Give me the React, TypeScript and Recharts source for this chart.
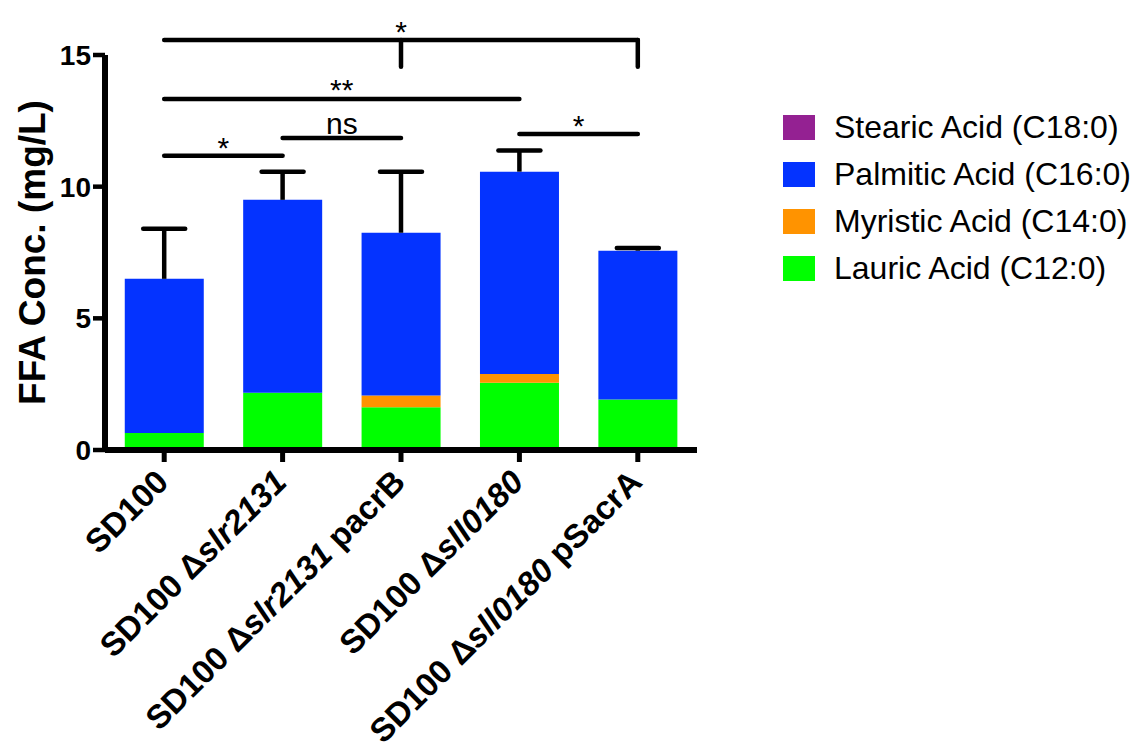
import { BarChart, Bar, XAxis, YAxis, ReferenceLine, Legend } from "recharts";

// strains on the x axis
const strains = [
  "SD100",
  "SD100 Δslr2131",
  "SD100 Δslr2131 pacrB",
  "SD100 Δsll0180",
  "SD100 Δsll0180 pSacrA",
];

// tick text split into runs, every second run is a gene name (italic)
const strainLabels = [
  ["SD100"],
  ["SD100 Δ", "slr2131"],
  ["SD100 Δ", "slr2131", " pacrB"],
  ["SD100 Δ", "sll0180"],
  ["SD100 Δ", "sll0180", " pSacrA"],
];

// free fatty acid concentrations, mg/L
const lauric = [0.65, 2.17, 1.62, 2.55, 1.92];
const myristic = [0, 0, 0.45, 0.34, 0];
const palmitic = [5.85, 7.33, 6.18, 7.68, 5.65];
const stearic = [0, 0, 0, 0, 0];
// upper SD of the total
const totalSd = [1.9, 1.07, 2.32, 0.8, 0.1];

const yTicks = [0, 5, 10, 15];

// significance brackets (y in mg/L)
const brackets = [
  { from: 0, to: 1, y: 11.17, text: "*" },
  { from: 1, to: 2, y: 11.85, text: "ns" },
  { from: 3, to: 4, y: 12.0, text: "*" },
  { from: 0, to: 3, y: 13.33, text: "**" },
  { from: 0, to: 4, y: 15.57, text: "*" },
];
// downward legs of the top bracket
const topBracketLegs = [2, 4];
const topBracketLegEnd = 14.55;

const data = strains.map((strain, i) => ({
  strain,
  lauric: lauric[i],
  myristic: myristic[i],
  palmitic: palmitic[i],
  stearic: stearic[i],
}));

const totals = strains.map((_, i) => lauric[i] + myristic[i] + palmitic[i] + stearic[i]);

const FONT = '"Liberation Sans", Arial, Helvetica, sans-serif';

// asterisks sit low in the font box, so they get pulled down onto the line
const labelOffset = (text: string) => (text === "ns" ? 4 : text === "**" ? -1 : -2);

function StrainTick({ x, y, payload }: any) {
  const idx = strains.indexOf(payload.value);
  const parts = strainLabels[idx] ?? [payload.value];
  return (
    <text
      transform={`translate(${x + 6},${y + 20}) rotate(-45)`}
      textAnchor="end"
      fontSize={33}
      fontWeight={700}
      fontFamily={FONT}
      fill="#000"
    >
      {parts.map((s, i) => (
        <tspan key={i} fontStyle={i % 2 === 1 ? "italic" : "normal"}>
          {s}
        </tspan>
      ))}
    </text>
  );
}

function Whisker(p: any) {
  const top = Math.min(p.y1, p.y2);
  const bottom = Math.max(p.y1, p.y2);
  return (
    <g>
      <line x1={p.x1} y1={bottom} x2={p.x1} y2={top} stroke="#000" strokeWidth={4.5} />
      <line x1={p.x1 - 21} y1={top} x2={p.x1 + 21} y2={top} stroke="#000" strokeWidth={4.5} strokeLinecap="round" />
    </g>
  );
}

function BracketLine(p: any) {
  return <line x1={p.x1} y1={p.y1} x2={p.x2} y2={p.y2} stroke="#000" strokeWidth={4.5} strokeLinecap="round" />;
}

function AcidLegend({ payload }: any) {
  const items = [...(payload ?? [])].reverse();
  return (
    <div style={{ fontFamily: FONT }}>
      {items.map((item: any) => (
        <div key={item.value} style={{ display: "flex", alignItems: "center", height: 47 }}>
          <span style={{ width: 32, height: 25, background: item.color, marginRight: 19, flex: "none" }} />
          <span style={{ fontSize: 32, color: "#000", whiteSpace: "nowrap" }}>{item.value}</span>
        </div>
      ))}
    </div>
  );
}

export default function App() {
  return (
    <div style={{ position: "absolute", left: 0, top: 0, fontFamily: FONT, background: "#fff" }}>
      <BarChart
        width={1142}
        height={751}
        data={data}
        margin={{ top: 55, right: 445, bottom: 0, left: 0 }}
        barCategoryGap="16.7%"
      >
        <XAxis
          dataKey="strain"
          height={301}
          interval={0}
          tickSize={12}
          tick={<StrainTick />}
          axisLine={{ stroke: "#000", strokeWidth: 6 }}
          tickLine={{ stroke: "#000", strokeWidth: 5 }}
        />
        <YAxis
          width={105}
          domain={[0, 15]}
          ticks={yTicks}
          allowDataOverflow
          tickSize={12}
          axisLine={{ stroke: "#000", strokeWidth: 6 }}
          tickLine={{ stroke: "#000", strokeWidth: 4.5 }}
          tick={{ fontSize: 28, fontWeight: 700, fill: "#000", fontFamily: FONT }}
          label={{
            value: "FFA Conc. (mg/L)",
            angle: -90,
            position: "insideLeft",
            offset: 32,
            style: { textAnchor: "middle", fontSize: 37, fontWeight: 700, fill: "#000", fontFamily: FONT },
          }}
        />
        <Legend
          layout="vertical"
          align="center"
          verticalAlign="middle"
          content={<AcidLegend />}
          wrapperStyle={{ left: 783, top: 104, width: 359, height: 190 }}
        />
        <Bar dataKey="lauric" name="Lauric Acid (C12:0)" stackId="ffa" fill="#00FF00" isAnimationActive={false} />
        <Bar dataKey="myristic" name="Myristic Acid (C14:0)" stackId="ffa" fill="#FF9300" isAnimationActive={false} />
        <Bar dataKey="palmitic" name="Palmitic Acid (C16:0)" stackId="ffa" fill="#0433FF" isAnimationActive={false} />
        <Bar dataKey="stearic" name="Stearic Acid (C18:0)" stackId="ffa" fill="#942192" isAnimationActive={false} />

        {strains.map((s, i) => (
          <ReferenceLine
            key={`sd-${s}`}
            segment={[
              { x: s, y: totals[i] },
              { x: s, y: totals[i] + totalSd[i] },
            ]}
            ifOverflow="visible"
            shape={Whisker}
          />
        ))}

        {brackets.map((b, i) => (
          <ReferenceLine
            key={`br-${i}`}
            segment={[
              { x: strains[b.from], y: b.y },
              { x: strains[b.to], y: b.y },
            ]}
            ifOverflow="visible"
            shape={BracketLine}
            label={{
              value: b.text,
              position: "top",
              offset: labelOffset(b.text),
              fontSize: 30,
              fill: "#000",
              fontFamily: FONT,
            }}
          />
        ))}

        {topBracketLegs.map((idx) => (
          <ReferenceLine
            key={`leg-${idx}`}
            segment={[
              { x: strains[idx], y: brackets[4].y },
              { x: strains[idx], y: topBracketLegEnd },
            ]}
            ifOverflow="visible"
            shape={BracketLine}
          />
        ))}
      </BarChart>
    </div>
  );
}
